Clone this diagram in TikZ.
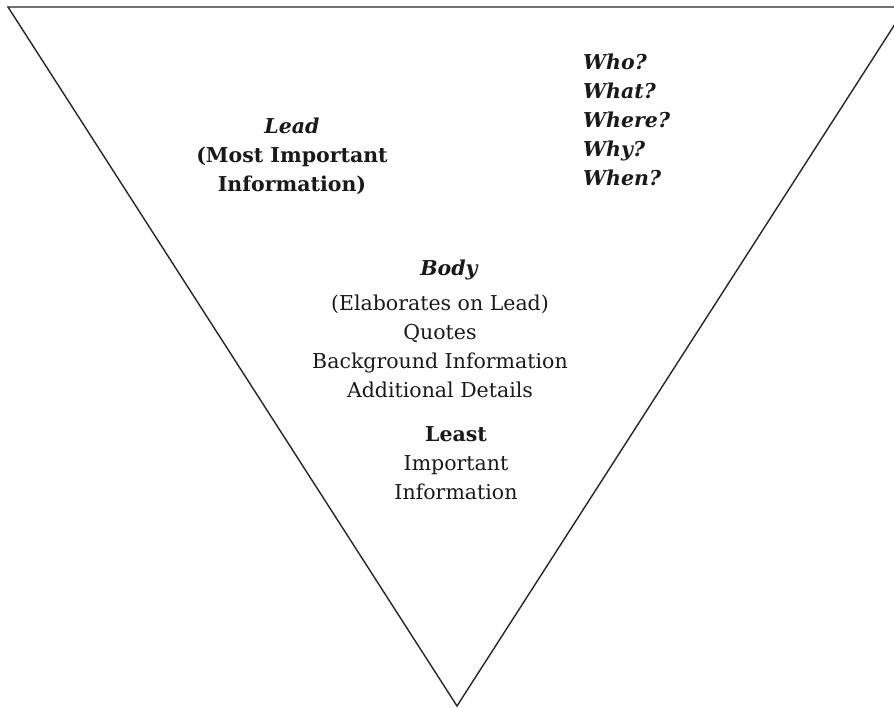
\documentclass[tikz,border=0pt]{standalone}
\usepackage{fontspec}
\setmainfont{DejaVu Serif}
\begin{document}
\begin{tikzpicture}
		[x=1pt,y=-1pt,
		pyramid/.style={draw=black!85,line width=1.4pt},
		mytext/.style={align=center,font=\fontsize{20.5}{29}\selectfont,text=black!90,inner sep=0pt},
		myhead/.style={mytext,font=\fontsize{20.5}{29}\selectfont\bfseries\itshape}]
		\useasboundingbox (0,0) rectangle (894,708);
		\clip (0,0) rectangle (894,708);
		\draw[pyramid] (8,7) -- (906,7) -- (457,706) -- cycle;
		% lead
		\node[mytext,name=lead] at (292,156)
		{{\bfseries\itshape Lead}\\\bfseries (Most Important\\\bfseries Information)};
		\node[myhead,align=left,anchor=west,name=questions] at (583,120)
		{Who?\\What?\\Where?\\Why?\\When?};
		% body
		\node[myhead,name=body] at (449,270) {Body};
		\node[mytext,name=details] at (440,346)
		{(Elaborates on Lead)\\Quotes\\Background Information\\Additional Details};
		% least
		\node[mytext,name=least] at (456,463)
		{{\bfseries Least}\\Important\\Information};
	\end{tikzpicture}
\end{document}
